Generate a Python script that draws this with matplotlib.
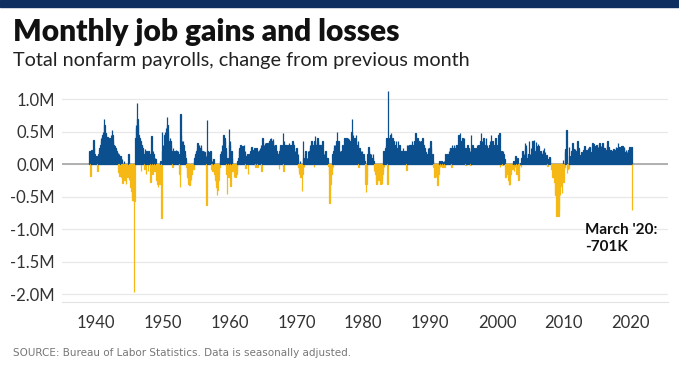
import numpy as np
import matplotlib
matplotlib.use("Agg")
from matplotlib import pyplot as plt

# monthly change in total nonfarm payrolls, thousands (Jan..Dec)
jobs_1930s = [
    [200, -190, 180, 220, 150, 120, 180, 370, 250, 150, 100, 120],  # 1939
]
jobs_1940s = [
    [120, 60, -110, 90, 150, 200, 250, 300, 400, 350, 420, 450],
    [500, 450, 700, 600, 480, 450, 400, 350, 420, 380, 300, 350],
    [400, 380, 450, 380, 520, 450, 350, 300, 250, 280, 250, 220],
    [200, 180, 150, 170, -120, 150, -180, 120, 100, -200, 80, -290],
    [-150, -220, 50, -250, -120, -300, -180, -100, -200, -150, 150, -250],
    [-200, -350, -300, -420, -500, -550, -570, -520, -1960, -560, 400, 600],
    [550, 940, 700, 600, 450, 380, 400, 350, -100, 300, 280, 250],
    [200, 150, -80, 230, 180, -150, 200, 120, 180, -100, 200, 150],
    [150, -280, 200, 430, 180, -160, 200, 150, -100, 100, 80, -120],
    [-250, -200, -300, -350, -280, -300, -150, 50, -100, -830, 500, 200],
]
jobs_1950s = [
    [300, 150, 450, 500, 400, 550, 450, 720, 600, 500, 350, 300],
    [400, 350, 300, 200, 150, -50, 250, 200, 180, 150, 200, 220],
    [200, 180, 150, 200, 150, -150, -350, 770, 450, 300, 350, 300],
    [350, 300, 200, 150, 100, 50, -50, -150, -200, -250, -300, -320],
    [-300, -200, -250, -150, -100, -50, -80, 50, 100, 120, 150, 180],
    [200, 250, 330, 280, 300, 250, 200, 250, 300, 180, 150, 200],
    [150, 200, 180, 150, 100, 120, -630, 670, 200, 150, 100, 180],
    [150, 200, 100, -80, 50, -100, 80, -50, -150, -200, -250, -300],
    [-350, -480, -400, -250, -150, -50, 50, 150, 200, 100, 300, 200],
    [450, 300, 400, 350, 250, 200, -150, -460, 100, -200, 540, 300],
]
jobs_1960s = [
    [350, -330, -150, 200, 100, -100, -50, -200, -100, -150, -200, -100],
    [-150, -120, 50, 100, 200, 250, 200, 300, 150, 250, 280, 200],
    [100, 300, 150, 200, -60, 100, 120, 150, -160, 100, 80, 150],
    [150, 200, 150, 260, 200, 180, 220, 150, 250, 200, -50, 250],
    [250, -50, 200, 180, 220, 200, 250, 200, 300, -100, 400, 300],
    [250, 300, 280, 320, 300, 250, 320, 280, 300, 320, 280, 350],
    [350, 390, 400, 300, 350, 380, 250, 300, 200, 250, 300, 200],
    [200, 150, 100, 150, -80, 200, 250, 300, 200, 200, 300, 480],
    [-100, 350, 300, 250, 300, 280, 300, 250, 280, 300, 320, 300],
    [300, 280, 300, 250, 350, 320, 300, 250, 150, 200, 100, 250],
]
jobs_1970s = [
    [100, 80, 150, -50, -150, -100, 50, -200, -100, -420, -150, 350],
    [100, -50, 50, 150, 200, 50, 100, 80, 200, 100, 150, 200],
    [300, 250, 350, 300, 250, 200, 300, -50, 350, 430, 300, 300],
    [350, 400, 350, 300, 250, 300, 200, 300, 250, 300, 350, 200],
    [100, 150, 50, 150, 200, 100, 50, 100, 50, -30, -150, -600],
    [-400, -300, -150, -80, 150, -50, 200, 300, 250, 300, 200, 350],
    [490, 300, 250, 350, 100, 150, 200, 150, 200, 100, 300, 200],
    [200, 300, 400, 380, 350, 400, 300, 350, 400, 300, 380, 350],
    [250, 350, 500, 700, 400, 450, 350, 300, 400, 350, 450, 300],
    [250, 300, 350, -50, 200, 250, 150, 200, 150, 200, 100, 150],
]
jobs_1980s = [
    [150, 100, 50, -300, -430, -300, -200, 150, 100, 270, 200, 150],
    [100, 150, 100, 50, 100, 150, 50, -100, -50, -150, -250, -300],
    [-300, -100, -150, -250, -50, -250, -300, -200, -250, -300, -150, -100],
    [200, -50, 150, 250, 300, 400, 400, -300, 1120, 300, 350, 400],
    [450, 480, 300, 350, 400, 350, 350, 250, 300, 300, 350, 250],
    [250, 200, 350, 200, 300, 150, 200, 200, 200, 150, 200, 250],
    [150, 200, 100, 200, 150, -90, 300, 150, 300, 200, 300, 250],
    [300, 250, 300, 350, 250, 200, 300, 350, 250, 480, 300, 350],
    [250, 400, 300, 350, 250, 350, 300, 150, 350, 300, 400, 300],
    [300, 250, 200, 180, 120, 100, 50, 150, 250, 150, 250, 100],
]
jobs_1990s = [
    [350, 250, 100, 50, 150, 50, -50, -200, -100, -150, -200, -100],
    [-150, -320, -200, -150, 50, -50, -30, 30, 50, -20, -50, 30],
    [50, -50, 50, 150, 100, 50, 100, 150, 100, 200, 150, 250],
    [250, 200, -50, 300, 250, 200, 300, 150, 250, 250, 300, 300],
    [300, 200, 450, 300, 350, 470, 350, 300, 350, 250, 400, 300],
    [400, 250, 250, -20, 100, 250, 200, 300, 250, 150, 150, 200],
    [-20, 450, 250, 200, 300, 250, 250, 200, 200, 250, 200, 200],
    [300, 250, 300, 300, 200, 250, 350, 480, 300, 350, 300, 400],
    [350, 250, 200, 300, 400, 250, 300, 200, 250, 250, 300, 350],
    [250, 450, 200, 350, 250, 300, 300, 200, 250, 400, 300, 300],
]
jobs_2000s = [
    [250, 150, 450, 300, 480, -50, 150, 0, 200, -20, 200, 150],
    [50, 80, -50, -200, -50, -150, -100, -150, -250, -320, -300, -180],
    [-150, -100, -30, -80, 20, 50, -100, 0, -50, 120, 20, -150],
    [100, -200, -250, -50, -20, 0, 20, -50, 100, 200, 50, 100],
    [150, 80, 320, 250, 300, 100, 50, 150, 160, 350, 60, 150],
    [130, 240, 140, 360, 170, 250, 370, 200, 70, 80, 340, 160],
    [280, 310, 280, 180, 20, 80, 200, 180, 160, 10, 210, 170],
    [240, 90, 190, 80, 140, 80, -30, -20, 80, 80, 110, 100],
    [0, -80, -80, -200, -180, -170, -210, -270, -460, -480, -800, -660],
    [-780, -700, -800, -700, -350, -470, -340, -210, -450, -200, 60, -270],
]
jobs_2010s = [
    [0, -50, 180, 230, 530, -130, -70, -40, -60, 260, 120, 70],
    [40, 200, 220, 320, 100, 230, 70, 110, 230, 200, 140, 210],
    [350, 260, 240, 80, 110, 80, 140, 180, 170, 140, 150, 220],
    [190, 280, 140, 180, 220, 180, 140, 240, 170, 220, 270, 60],
    [190, 170, 270, 330, 230, 310, 230, 200, 280, 230, 300, 270],
    [190, 270, 70, 310, 330, 200, 280, 160, 150, 330, 260, 250],
    [130, 240, 220, 170, 30, 300, 350, 150, 270, 120, 180, 220],
    [220, 200, 150, 180, 140, 230, 190, 220, 20, 270, 250, 180],
    [170, 330, 180, 180, 270, 230, 150, 280, 110, 280, 190, 240],
    [270, 1, 180, 220, 60, 180, 170, 210, 210, 190, 260, 180],
]
jobs_2020 = [210, 270, -701]

first_year = 1939
x_ticks = [1940, 1950, 1960, 1970, 1980, 1990, 2000, 2010, 2020]
y_ticks = [1.0, 0.5, 0.0, -0.5, -1.0, -1.5, -2.0]
y_labels = ['1.0M', '0.5M', '0.0M', '-0.5M', '-1.0M', '-1.5M', '-2.0M']

BLUE = '#0b4f8f'
YELLOW = '#f6b814'
NAVY = '#0f2f61'

values = []
for decade in [jobs_1930s, jobs_1940s, jobs_1950s, jobs_1960s,
               jobs_1970s, jobs_1980s, jobs_1990s, jobs_2000s, jobs_2010s]:
    for row in decade:
        values.extend(row)
values.extend(jobs_2020)
values = np.array(values) / 1000.0
dates = first_year + (np.arange(len(values)) + 0.5) / 12.0

fig = plt.figure(figsize=(6.79, 3.82), dpi=100)

# navy strip along the top
fig.patches.append(plt.Rectangle((0, 0.982), 1, 0.018, transform=fig.transFigure,
                                 color=NAVY, zorder=0))

fig.text(0.019, 0.893, 'Monthly job gains and losses', fontsize=21.5,
         fontweight='heavy', family='Lato', color='#111111', va='baseline')
fig.text(0.019, 0.827, 'Total nonfarm payrolls, change from previous month',
         fontsize=14.3, family='Lato', color='#222222', va='baseline')
fig.text(0.019, 0.067, 'SOURCE: Bureau of Labor Statistics. Data is seasonally adjusted.',
         fontsize=7.5, family=['Liberation Sans Narrow', 'DejaVu Sans'],
         color='#777777', va='baseline')

ax = fig.add_axes([0.0913, 0.2094, 0.8925, 0.5655])
colors = [BLUE if v >= 0 else YELLOW for v in values]
ax.bar(dates, values, width=1 / 12.0, color=colors, edgecolor=colors,
       linewidth=0.9, zorder=3)
ax.axhline(0, color='#b0b0b0', linewidth=1.4, zorder=2)

ax.set_xlim(1934.9, 2025.6)
ax.set_ylim(-2.12, 1.2)
ax.set_yticks(y_ticks)
ax.set_yticklabels(y_labels)
ax.set_xticks(x_ticks)
ax.grid(axis='y', color='#e8e8e8', linewidth=0.9, zorder=0)
ax.tick_params(length=0, labelsize=12, colors='#333333', pad=9)
ax.tick_params(axis='y', pad=5)
for lab in ax.get_xticklabels() + ax.get_yticklabels():
    lab.set_family('Lato')
for side in ['top', 'right', 'left']:
    ax.spines[side].set_visible(False)
ax.spines['bottom'].set_color('#e2e2e2')

ax.text(2013.2, -0.9, "March '20:\n-701K", fontsize=11, fontweight='bold',
        family='Lato', color='#111111', va='top', linespacing=1.35)

fig.savefig('out.png', dpi=100)
